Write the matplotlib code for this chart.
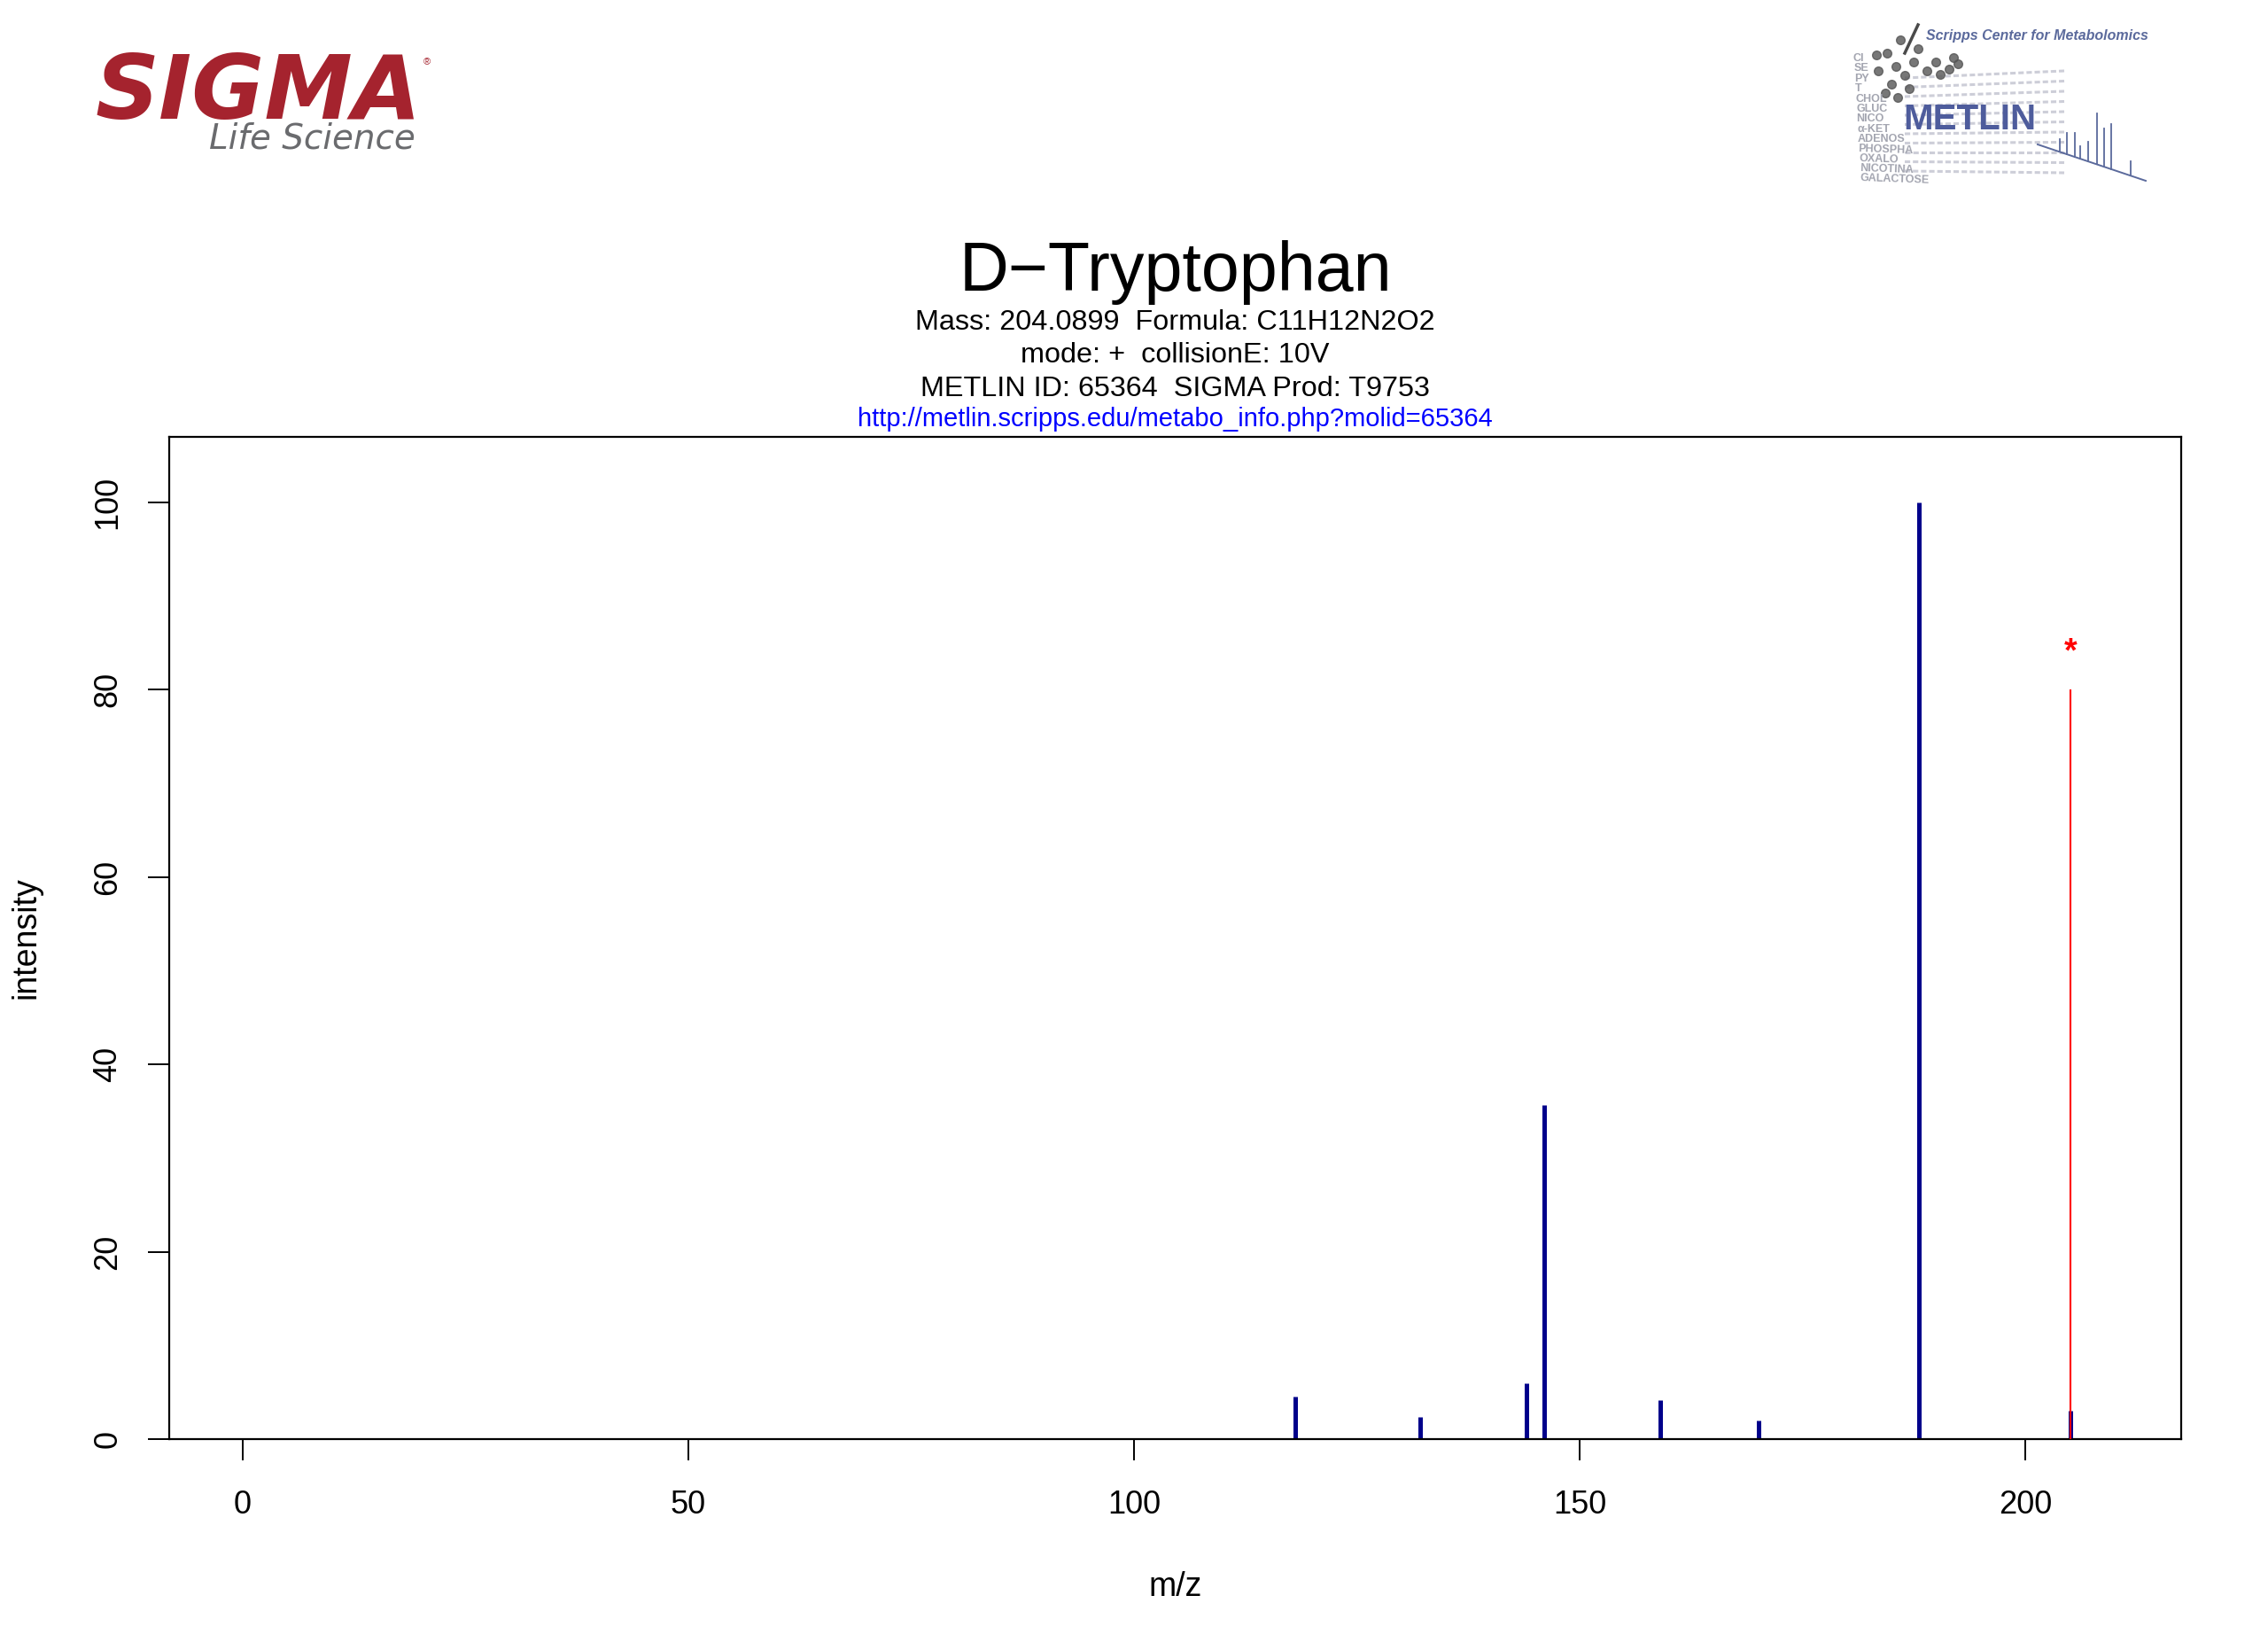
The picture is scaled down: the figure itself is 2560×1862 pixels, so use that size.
import matplotlib
matplotlib.use("Agg")
import matplotlib.pyplot as plt
from matplotlib.lines import Line2D

plt.rcParams['font.family'] = ['Liberation Sans', 'DejaVu Sans']

# ---- data ----
fragment_mz = [118.07, 132.08, 144.08, 146.06, 159.09, 170.06, 188.07, 205.10]
fragment_int = [4.5, 2.4, 6.0, 35.7, 4.2, 2.0, 100.0, 3.0]
precursor_mz = 205.10
precursor_int = 80.0
x_ticks = [0, 50, 100, 150, 200]
y_ticks = [0, 20, 40, 60, 80, 100]

title = "D\u2212Tryptophan"
info_lines = ["Mass: 204.0899  Formula: C11H12N2O2",
              "mode: +  collisionE: 10V",
              "METLIN ID: 65364  SIGMA Prod: T9753"]
url = "http://metlin.scripps.edu/metabo_info.php?molid=65364"

W, H = 2560, 1862
fig = plt.figure(figsize=(W / 100, H / 100), dpi=100)
fig.patch.set_facecolor('white')

def fx(px):
    return px / W

def fy(py):
    return 1 - py / H

# axes placement (pixels measured from reference)
left, right, top, bottom = 191, 2462, 493, 1624
ax = fig.add_axes([fx(left), fy(bottom), (right - left) / W, (bottom - top) / H])

ax.vlines(fragment_mz, 0, fragment_int, colors='#00008B', linewidth=3.6, zorder=2)
ax.vlines([precursor_mz], 0, [precursor_int], colors='#FF0000', linewidth=1.5, zorder=3)
ax.text(precursor_mz, precursor_int + 4, '*', color='#FF0000', fontsize=27, fontweight='bold',
        ha='center', va='center', zorder=4)

ax.set_xlim(-8.25, 217.5)
ax.set_ylim(0, 107)
ax.set_xticks(x_ticks)
ax.set_yticks(y_ticks)
ax.set_xticklabels([str(v) for v in x_ticks])
ax.set_yticklabels([str(v) for v in y_ticks])
ax.tick_params(axis='both', direction='out', length=17, width=1.4, labelsize=26, color='black')
ax.tick_params(axis='x', pad=24)
ax.tick_params(axis='y', pad=20)
for t in ax.get_yticklabels():
    t.set_rotation(90)
    t.set_va('center')
    t.set_ha('right')
for s in ax.spines.values():
    s.set_linewidth(1.6)
    s.set_color('black')

fig.text(fx(1327), fy(1791), "m/z", fontsize=27, ha='center', va='center')
fig.text(fx(29), fy(1058), "intensity", fontsize=27, ha='center', va='center', rotation=90)

# titles
cx = (left + right) / 2
fig.text(fx(cx), fy(307), title, fontsize=55.5, ha='center', va='center')
for i, line in enumerate(info_lines):
    fig.text(fx(cx), fy(364 + 37.5 * i), line, fontsize=23.3, ha='center', va='center')
fig.text(fx(cx), fy(473), url, fontsize=21, ha='center', va='center', color='#0000FF')

# ---- SIGMA logo ----
fig.text(fx(107), fy(134), "SIGMA", fontsize=72, fontweight='heavy', style='italic',
         family='DejaVu Sans', color='#A5232E', ha='left', va='baseline')
fig.text(fx(482), fy(70), "\u00ae", fontsize=8, color='#A5232E', ha='center', va='center')
fig.text(fx(469), fy(168), "Life Science", fontsize=28, style='italic',
         family='DejaVu Sans', color='#6A6B6E', ha='right', va='baseline')

# ---- METLIN logo ----
fig.text(fx(2425), fy(40), "Scripps Center for Metabolomics", fontsize=11.5,
         fontweight='bold', style='italic', color='#5B6A9C', ha='right', va='center')
# perspective wall of faded "text rows" (decoration drawn as dashed lines)
for i in range(11):
    y0 = 88 + i * 10.5
    y1 = 70 + i * 13.5
    fig.add_artist(Line2D([fx(2150), fx(2330)], [fy(y0), fy(y1 + (y0 - y1) * 0.0 - (i - 5) * 2)],
                          color='#CDCED8', lw=2.2, linestyle=(0, (2, 1)), zorder=0))
names = ["CI", "SE", "PY", "T", "CHOL", "GLUC", "NICO", "\u03b1-KET", "ADENOS",
         "PHOSPHA", "OXALO", "NICOTINA", "GALACTOSE"]
for i, n in enumerate(names):
    fig.text(fx(2092 + i * 0.6), fy(66 + i * 11.4), n, fontsize=9, fontweight='bold',
             color='#A3A5B0', ha='left', va='center', rotation=-2.0 * (i > 8))
fig.text(fx(2148), fy(135), "METLIN", fontsize=29, fontweight='bold', color='#4E5C9C',
         ha='left', va='center', zorder=3)
# logo decoration: perspective floor and mini spectrum
fig.add_artist(Line2D([fx(2300), fx(2422)], [fy(163), fy(204)], color='#5B6A9C', lw=1.4))
for xx, tp in [(2325, 157), (2333, 150), (2342, 150), (2348, 165), (2357, 160),
               (2367, 128), (2375, 145), (2383, 140), (2405, 182)]:
    base = 167 + (xx - 2313) * 36 / 107
    fig.add_artist(Line2D([fx(xx), fx(xx)], [fy(base), fy(tp)], color='#5B6A9C', lw=1.3))
for xx, yy in [(2130, 60), (2140, 75), (2150, 85), (2160, 70), (2175, 80), (2185, 70),
               (2200, 78), (2210, 72), (2145, 45), (2135, 95), (2120, 80), (2155, 100),
               (2118, 62), (2165, 55), (2190, 84), (2205, 65), (2142, 110), (2128, 105)]:
    fig.add_artist(Line2D([fx(xx)], [fy(yy)], marker='o', markersize=7, color='#555555',
                          alpha=0.8, linestyle='none'))
fig.add_artist(Line2D([fx(2150), fx(2165)], [fy(60), fy(28)], color='#4A4A4A', lw=2.5))

fig.savefig("out.png", dpi=100, facecolor='white')
